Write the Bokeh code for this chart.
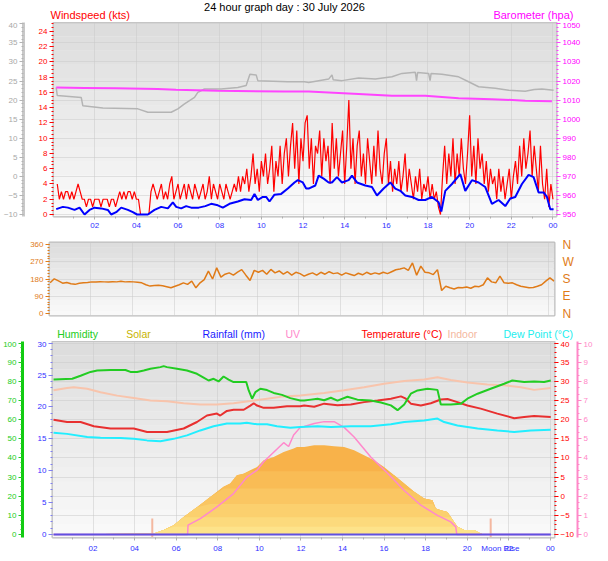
from bokeh.plotting import figure
from bokeh.models import (Range1d, LinearAxis, FixedTicker, SingleIntervalTicker,
                          BoxAnnotation)
from bokeh.layouts import column
from bokeh.embed import file_html
from bokeh.resources import INLINE
from bokeh.core.properties import value
import numpy as np

FONT = "Liberation Sans"

# ---------------- data ----------------
hour_ticks = [2, 4, 6, 8, 10, 12, 14, 16, 18, 20, 22, 24]
hour_labels = ["02", "04", "06", "08", "10", "12", "14", "16", "18", "20", "22", "00"]
moon_rise_hour = 21.6

title_text = "24 hour graph day : 30 July 2026"
legend_names = ["Humidity", "Solar", "Rainfall (mm)", "UV", "Temperature (\u00b0C)", "Indoor",
                "Dew Point (\u00b0C)"]

# wind gust (kts), sampled every 0.1 h from 0.2 h
gust_start, gust_step = 0.2, 0.1
gust_kts = [
    4, 2, 3, 2, 3, 3, 2, 3, 2, 3,
    4, 3, 2, 2, 1, 2, 2, 1, 2, 2,
    2, 1, 2, 2, 2, 1, 2, 2, 1, 2,
    3, 2, 3, 2, 3, 3, 2, 3, 2, 2,
    0, 0, 0, 0, 0, 3, 4, 3, 2, 3,
    4, 2, 3, 2, 4, 5, 2, 3, 4, 2,
    3, 4, 2, 4, 3, 2, 4, 3, 2, 3,
    4, 2, 3, 5, 2, 4, 3, 2, 4, 3,
    2, 4, 3, 2, 3, 4, 3, 5, 3, 5,
    4, 6, 3, 5, 8, 4, 6, 3, 7, 5,
    8, 4, 6, 9, 3, 7, 5, 9, 4, 8,
    10, 5, 9, 12, 6, 11, 4, 10, 7, 12,
    13, 6, 10, 4, 9, 8, 11, 5, 10, 7,
    9, 4, 12, 6, 10, 5, 8, 11, 4, 9,
    15, 6, 10, 4, 9, 11, 5, 8, 4, 10,
    7, 4, 9, 5, 11, 6, 4, 8, 10, 4,
    7, 3, 6, 4, 7, 3, 5, 8, 3, 6,
    4, 2, 5, 3, 6, 2, 4, 3, 5, 2,
    4, 2, 3, 1, 0, 5, 9, 4, 8, 5,
    10, 4, 8, 5, 10, 6, 4, 8, 13, 5,
    9, 4, 10, 6, 8, 4, 7, 3, 6, 4,
    5, 2, 6, 3, 5, 2, 4, 6, 2, 5,
    7, 4, 9, 5, 10, 6, 8, 11, 5, 9,
    6, 3, 9, 4, 2, 6, 1, 4, 2,
]

avg_t = [0.15, 0.47, 0.71, 1.03, 1.27, 1.51, 1.75, 1.99, 2.31, 2.63, 2.79, 3.03, 3.27, 3.59,
         3.83, 4.03, 4.55, 4.87, 5.19, 5.51, 5.75, 5.91, 6.15, 6.39, 6.63, 6.99, 7.31, 7.59,
         7.91, 8.15, 8.47, 8.87, 9.19, 9.51, 9.67, 9.83, 10.07, 10.23, 10.39, 10.63, 10.95,
         11.27, 11.59, 11.75, 11.99, 12.15, 12.27, 12.59, 12.75, 12.99, 13.23, 13.39, 13.63,
         13.87, 14.19, 14.35, 14.59, 14.99, 15.31, 15.55, 15.87, 16.19, 16.43, 16.67, 16.91,
         17.23, 17.55, 17.87, 18.19, 18.51, 18.64, 18.83, 19.15, 19.55, 19.79, 20.11, 20.43,
         20.75, 21.07, 21.39, 21.71, 21.95, 22.19, 22.51, 22.83, 23.07, 23.31, 23.55, 23.71,
         23.87, 24.03]
avg_kts = [0.7, 1.0, 0.9, 0.6, 0.9, 0.0, 0.6, 0.9, 0.8, 0.6, 0.0, 0.3, 0.9, 0.6,
           0.3, 0.0, 0.0, 0.6, 1.0, 0.8, 1.6, 1.0, 0.8, 1.1, 0.9, 0.9, 1.1, 1.4,
           1.2, 0.9, 1.4, 1.7, 2.0, 1.9, 2.7, 1.9, 2.3, 2.3, 1.7, 2.6, 2.7,
           3.4, 4.2, 4.5, 4.2, 3.4, 3.4, 3.8, 5.1, 4.7, 4.2, 4.2, 4.9,
           4.2, 4.5, 5.1, 4.2, 3.8, 3.6, 2.5, 3.4, 4.2, 3.4, 3.1, 2.5,
           2.3, 1.9, 1.9, 2.3, 1.6, 0.4, 3.1, 4.0, 5.3, 3.1, 4.5, 4.2,
           3.6, 1.4, 1.9, 1.1, 2.1, 2.3, 4.0, 5.2, 4.9, 2.9, 2.9, 2.3,
           0.7, 0.7]

baro_t = [0.15, 1.5, 3.0, 5.03, 5.9, 7.9, 11.1, 12.27, 14.67, 16.27, 17.87, 19.47, 21.07, 22.67, 23.95]
baro_hpa = [1016.6, 1016.4, 1016.2, 1015.8, 1015.4, 1014.9, 1014.5, 1014.5, 1013.2, 1012.3,
            1012.3, 1010.9, 1010.5, 1009.7, 1009.4]

grey_t = [0.15, 0.2, 1.35, 1.43, 2.39, 4.07, 4.55, 5.67, 5.99, 6.31, 6.79, 6.95, 7.27, 8.07,
          8.87, 9.27, 9.45, 9.75, 9.83, 11.27, 12.07, 12.27, 13.23, 13.39, 13.45, 13.87, 14.67,
          15.47, 16.27, 16.75, 17.39, 17.45, 17.5, 18.03, 18.1, 18.15, 18.67, 19.47, 19.95,
          20.43, 21.23, 21.87, 22.67, 23.1, 23.47, 24.03]
grey_v = [23.3, 21.2, 20.7, 18.5, 17.9, 17.7, 16.8, 16.8, 17.7, 19.0, 20.7, 22.0, 22.9, 22.9,
          23.3, 23.8, 26.8, 26.6, 25.1, 24.8, 24.8, 24.6, 25.5, 26.6, 25.3, 25.1, 25.8,
          25.5, 26.1, 27.0, 27.3, 25.1, 27.2, 27.0, 25.1, 27.0, 26.8, 26.1, 24.8,
          23.5, 23.1, 22.6, 22.3, 22.8, 22.9, 22.6]

# wind direction (deg), sampled every 0.2 h from 0.05 h
dir_start, dir_step = 0.05, 0.2
dir_deg = [
    160, 181, 170, 158, 162, 155, 152, 158, 160, 162,
    165, 164, 166, 165, 164, 166, 165, 168, 165, 166,
    165, 163, 160, 150, 143, 146, 148, 145, 140, 134,
    142, 150, 160, 152, 169, 134, 160, 177, 221, 180,
    238, 190, 205, 212, 200, 216, 229, 200, 172, 225,
    215, 225, 205, 230, 212, 222, 205, 218, 200, 215,
    208, 195, 205, 212, 200, 215, 205, 218, 208, 212,
    200, 212, 205, 198, 210, 202, 215, 205, 212, 206,
    215, 208, 218, 228, 232, 238, 225, 264, 200, 247,
    215, 212, 203, 229, 120, 142, 134, 128, 136, 134,
    138, 132, 142, 140, 150, 186, 165, 160, 195, 160,
    158, 160, 150, 142, 138, 134, 136, 142, 150, 169,
    186, 169,
]

hum_t = [0.1, 1.0, 1.4, 1.88, 2.2, 2.84, 3.56, 3.8, 4.12, 4.44, 4.76, 5.24, 5.4, 5.56, 6.04,
         6.52, 7.0, 7.32, 7.56, 7.8, 8.04, 8.28, 8.52, 8.76, 9.08, 9.37, 9.49, 9.65, 9.81,
         10.05, 10.37, 10.69, 11.09, 11.49, 11.97, 12.16, 12.48, 12.8, 13.12, 13.44, 13.76,
         14.24, 14.72, 15.36, 15.85, 16.33, 16.65, 16.97, 17.29, 17.61, 18.09, 18.57, 18.73,
         19.21, 19.69, 20.01, 20.5, 21.13, 21.78, 22.17, 22.74, 23.22, 23.7, 24.02]
hum_pct = [81, 81.4, 83, 85, 85.7, 86, 86, 85, 85, 85.7, 86.6, 87.5, 88, 87.5, 86.6,
           85.7, 84, 82, 80.5, 81.4, 80, 82.6, 81, 79.7, 79.7, 79.7, 75.3, 71, 74.4,
           76.2, 75.5, 74, 73, 71.3, 70, 70, 70.5, 71, 70.2, 71.5, 70,
           72, 70.5, 70, 69, 67.5, 65, 68, 73.6, 75.3, 76.2, 75.6, 68,
           68, 68.3, 71, 73.6, 76.2, 78.8, 80.5, 79.7, 80, 79.7, 80.5]

temp_t = [0.1, 0.75, 1.4, 2.04, 2.84, 3.96, 4.6, 5.56, 6.36, 7.0, 7.48, 7.96, 8.12, 8.44, 8.76,
          9.25, 9.57, 9.73, 9.89, 10.21, 10.69, 11.33, 11.97, 12.16, 12.64, 13.12, 13.76, 14.4,
          15.04, 15.69, 16.33, 16.81, 17.05, 17.29, 17.77, 18.25, 18.73, 19.05, 19.53, 20.01,
          20.65, 21.45, 22.26, 22.74, 23.22, 24.02]
temp_c = [20.0, 19.4, 19.4, 18.3, 17.7, 17.7, 16.8, 16.8, 17.7, 19.4, 21.1, 21.6, 21.1, 22.3, 22.6,
          22.6, 23.7, 24.3, 23.7, 23.1, 23.1, 23.5, 23.5, 23.7, 23.4, 24.2, 23.8, 24.0,
          24.6, 25.0, 25.5, 26.1, 25.5, 24.2, 23.7, 24.3, 25.3, 25.4, 24.6, 23.7,
          22.9, 21.6, 20.4, 20.7, 21.0, 20.7]

indoor_t = [0.1, 0.75, 1.07, 1.72, 2.36, 3.16, 3.96, 4.76, 5.56, 6.36, 7.16, 7.96, 8.76, 9.57,
            10.37, 11.17, 11.97, 13.12, 14.08, 15.04, 16.0, 16.97, 17.93, 18.57, 19.21, 20.01,
            20.97, 21.78, 22.58, 23.22, 24.02]
indoor_c = [27.7, 28.3, 28.5, 28.1, 27.2, 26.3, 25.7, 25.0, 24.8, 24.3, 24.0, 24.0, 24.3, 24.9,
            25.5, 26.1, 26.3, 27.0, 27.7, 28.5, 29.4, 30.1, 30.5, 31.1, 30.4, 29.7,
            29.2, 29.0, 28.5, 27.8, 28.3]

dew_t = [0.1, 0.75, 1.72, 2.36, 3.32, 3.96, 4.6, 5.24, 5.88, 6.52, 7.16, 7.8, 8.44, 9.08, 9.4,
         9.89, 10.37, 10.85, 11.49, 11.97, 12.8, 13.44, 14.4, 15.36, 16.33, 16.97, 17.93, 18.57,
         18.89, 19.53, 20.5, 21.45, 22.26, 23.06, 24.02]
dew_c = [16.6, 16.3, 15.5, 15.3, 15.2, 15.0, 14.6, 14.4, 15.0, 15.9, 17.2, 18.3, 19.0, 19.0, 19.2,
         18.8, 18.8, 18.3, 17.9, 18.1, 18.3, 18.1, 18.3, 18.3, 18.8, 19.4, 19.8, 20.3,
         19.4, 18.5, 17.7, 17.2, 16.8, 17.2, 17.4]

uv_t = [0.1, 6.55, 6.57, 7.16, 7.96, 8.76, 9.4, 9.89, 10.21, 10.69, 11.17, 11.41, 11.65, 11.97,
        12.16, 12.64, 13.12, 13.6, 14.08, 14.56, 15.36, 16.17, 16.97, 17.77, 18.57, 19.21, 19.45,
        19.5, 24.02]
uv_idx = [0, 0, 0.49, 0.83, 1.44, 2.14, 3.0, 3.36, 3.8, 4.3, 4.8, 4.6, 5.2, 5.6,
          5.65, 5.8, 5.9, 5.9, 5.6, 5.1, 4.05, 3.2, 2.3, 1.53, 1.0, 0.66, 0.4,
          0, 0]

solar_t = [0.1, 4.92, 5.4, 5.88, 6.36, 7.0, 7.64, 8.28, 8.6, 8.92, 9.24, 9.56, 9.89, 10.21, 10.69,
           11.17, 11.65, 11.81, 12.16, 12.64, 13.12, 13.6, 14.08, 14.56, 15.04, 15.52, 16.0, 16.49,
           16.97, 17.45, 17.93, 18.33, 18.49, 18.73, 19.05, 19.21, 19.53, 19.85, 20.33, 20.65,
           20.8, 24.02]
solar_wm2 = [0, 5, 23, 49, 92, 143, 196, 249, 266, 310, 318, 336, 353, 388, 405,
             431, 449, 457, 457, 466, 466, 461, 457, 440, 414, 388, 353, 310,
             266, 223, 188, 179, 136, 127, 118, 92, 40, 23, 23, 5,
             0, 0]

rain_t = [0.1, 24.02]
rain_mm = [0.0, 0.0]

moon_events = [4.85, 21.13]

# ---------------- helpers ----------------
W = 608


def rng(lo, hi, span, pb, pt):
    s = (hi - lo) / span
    return Range1d(lo - pb * s, hi + pt * s)


def style_axis(ax, color, tick_color=None, line_color="#c8c8c8", line_width=1, size="8px",
               pad=None):
    tc = tick_color or color
    ax.major_label_text_color = color
    ax.major_label_text_font = FONT
    ax.major_label_text_font_size = size
    ax.axis_line_color = line_color
    ax.axis_line_width = line_width
    ax.major_tick_line_color = tc
    ax.minor_tick_line_color = tc
    ax.major_tick_in = 0
    ax.major_tick_out = 4
    ax.minor_tick_in = 0
    ax.minor_tick_out = 2
    ax.major_label_standoff = 2
    if pad:
        ax.axis_label = " "
        ax.axis_label_text_font_size = "4px"
        ax.axis_label_standoff = pad


def style_xaxis(p, extra=None):
    ax = p.xaxis[0]
    ticks = list(hour_ticks)
    over = {t: l for t, l in zip(hour_ticks, hour_labels)}
    if extra:
        ticks.append(extra[0])
        over[extra[0]] = extra[1]
    ax.ticker = FixedTicker(ticks=ticks, minor_ticks=[t - 1 for t in hour_ticks])
    ax.major_label_overrides = over
    style_axis(ax, "#3030ff", tick_color="#b0b0b0")
    ax.major_tick_out = 3
    ax.major_label_standoff = 3


def background(p, yr, top=(0xdc, 0xdc, 0xdc), bot=(0xfa, 0xfa, 0xfa), n=14):
    lo, hi = yr.start, yr.end
    for i in range(n):
        f = (i + 0.5) / n
        c = tuple(int(round(b + (t - b) * f)) for t, b in zip(top, bot))
        p.add_layout(BoxAnnotation(bottom=lo + (hi - lo) * i / n, top=lo + (hi - lo) * (i + 1) / n,
                                   fill_color="#%02x%02x%02x" % c, fill_alpha=1.0,
                                   line_alpha=0, level="image"))


def grid_style(p, yticker):
    p.xgrid.ticker = FixedTicker(ticks=hour_ticks)
    p.ygrid.ticker = yticker
    for g in (p.xgrid[0], p.ygrid[0]):
        g.grid_line_color = "#c8c8c8"
        g.grid_line_dash = "1 1"
        g.grid_line_width = 1


def base_fig(fw, fh, xr, yr, bl, br, bt, bb, **kw):
    return figure(frame_width=fw, frame_height=fh, x_range=xr, y_range=yr,
                  output_backend="svg", toolbar_location=None, frame_align=False,
                  min_border_left=bl, min_border_right=br, min_border_top=bt, min_border_bottom=bb,
                  background_fill_color="#f4f4f4", border_fill_color="white",
                  outline_line_color="#bcbcbc", outline_line_width=2, **kw)


def text_strip(h, xs, ys, texts, colors, aligns, size):
    p = figure(frame_width=W, frame_height=h, x_range=Range1d(0, W), y_range=Range1d(0, h),
               output_backend="svg", toolbar_location=None, min_border=0, frame_align=False,
               x_axis_location=None, y_axis_location=None, outline_line_color=None,
               background_fill_color="white", border_fill_color="white")
    p.grid.visible = False
    p.text(x=xs, y=ys, text=texts, text_color=colors, text_align=aligns,
           text_baseline="middle", text_font=value(FONT), text_font_size=value(size))
    return p


# ---------------- title strip ----------------
p0 = text_strip(22, [50, 284, 573], [8, 16, 8],
                ["Windspeed (kts)", title_text, "Barometer (hpa)"],
                ["#ff0000", "#000000", "#ff00ff"], ["left", "center", "right"], "11px")

# ---------------- top: wind & barometer ----------------
p1 = base_fig(503, 194, Range1d(0.02, 24.17), rng(0, 25, 190.7, 2, 1.3), 49, 56, 0, 20)
p1.extra_y_ranges = {"grey": rng(-10, 40, 190.7, 2, 1.3), "baro": rng(950, 1050, 190.7, 2, 1.3)}
background(p1, p1.y_range)
grid_style(p1, SingleIntervalTicker(interval=2.5))
style_xaxis(p1)
ya = p1.yaxis[0]
ya.ticker = SingleIntervalTicker(interval=2, num_minor_ticks=4)
style_axis(ya, "#ff0000", pad=4)
ga = LinearAxis(y_range_name="grey", ticker=SingleIntervalTicker(interval=5, num_minor_ticks=5))
style_axis(ga, "#a8a8a8", tick_color="#b4b4b4", line_color="#c8c8c8", line_width=3)
p1.add_layout(ga, "left")
ba = LinearAxis(y_range_name="baro", ticker=SingleIntervalTicker(interval=10, num_minor_ticks=5))
style_axis(ba, "#ff00ff", tick_color="#ff40ff")
p1.add_layout(ba, "right")

gust_t = [round(gust_start + gust_step * i, 2) for i in range(len(gust_kts))]
p1.line(grey_t, grey_v, y_range_name="grey", line_color="#b4b4b4", line_width=1.5)
p1.line(baro_t, baro_hpa, y_range_name="baro", line_color="#ff44ff", line_width=2)
p1.line(gust_t, gust_kts, line_color="#ff0000", line_width=1.2)
p1.line(avg_t, avg_kts, line_color="#0000ff", line_width=2)

# ---------------- middle: wind direction ----------------
p2 = base_fig(505, 73, Range1d(0.02, 24.27), rng(0, 360, 69, 2, 2), 49, 54, 6, 7,
              x_axis_location=None)
background(p2, p2.y_range)
grid_style(p2, FixedTicker(ticks=[90, 180, 270]))
da = p2.yaxis[0]
da.ticker = FixedTicker(ticks=[0, 90, 180, 270, 360], minor_ticks=list(range(0, 361, 15)))
style_axis(da, "#e07b18")
na = LinearAxis(ticker=FixedTicker(ticks=[0, 90, 180, 270, 360]))
na.major_label_overrides = {0: "N", 90: "E", 180: "S", 270: "W", 360: "N"}
style_axis(na, "#e07b18", size="12px")
na.axis_line_color = None
na.major_tick_line_color = None
na.minor_tick_line_color = None
na.major_label_standoff = 4
p2.add_layout(na, "right")
dir_t = [round(dir_start + dir_step * i, 2) for i in range(len(dir_deg))]
p2.line(dir_t, dir_deg, line_color="#e07b18", line_width=1.5)

# ---------------- legend strip ----------------
p2b = text_strip(19, [56.7, 125.7, 202, 285, 361, 447, 503], [8] * 7, legend_names,
                 ["#22cc22", "#c8b400", "#1a1aff", "#ff88cc", "#ff0000", "#f4b8a0", "#22eeee"],
                 ["left"] * 7, "10.5px")

# ---------------- bottom: temperature etc ----------------
p3 = base_fig(502, 196, Range1d(0.05, 24.2), rng(-10, 40, 191.3, 3, 1.7), 52, 54, 0, 18,
              y_axis_location="right")
p3.extra_y_ranges = {"rain": rng(0, 30, 191.3, 3, 1.7), "hum": rng(0, 100, 191.3, 3, 1.7),
                     "uv": rng(0, 10, 191.3, 3, 1.7), "solar": rng(0, 1000, 191.3, 3, 1.7)}
background(p3, p3.y_range)
grid_style(p3, SingleIntervalTicker(interval=5))
style_xaxis(p3, extra=(moon_rise_hour, "Moon Rise"))
ta = p3.yaxis[0]
ta.ticker = SingleIntervalTicker(interval=5, num_minor_ticks=4)
style_axis(ta, "#ff0000")
ra = LinearAxis(y_range_name="rain", ticker=SingleIntervalTicker(interval=5, num_minor_ticks=5))
style_axis(ra, "#3030ff", tick_color="#8080f0", pad=4)
p3.add_layout(ra, "left")
ha = LinearAxis(y_range_name="hum", ticker=SingleIntervalTicker(interval=10, num_minor_ticks=4))
style_axis(ha, "#22cc22", tick_color="#22cc22", line_color="#11cc11", line_width=3)
p3.add_layout(ha, "left")
ua = LinearAxis(y_range_name="uv", ticker=SingleIntervalTicker(interval=1, num_minor_ticks=3))
style_axis(ua, "#ff88c8", tick_color="#ff88c8", line_color="#ff88c8", line_width=2, pad=6)
p3.add_layout(ua, "right")

sol = np.array(solar_wm2, dtype=float)
layers = [(None, "#f8b24a"), (330, "#f9bc55"), (240, "#fac662"), (160, "#fbd06e"),
          (90, "#fcda7c"), (40, "#fde38a")]
for cap, col in layers:
    top = sol if cap is None else np.minimum(sol, cap)
    p3.varea(x=solar_t, y1=0, y2=top, y_range_name="solar", fill_color=col)

p3.segment(x0=moon_events, x1=moon_events, y0=-10.8, y1=-5.8, line_color="#f4b8a0", line_width=2)
p3.line(uv_t, uv_idx, y_range_name="uv", line_color="#ff88cc", line_width=1.5)
p3.line(indoor_t, indoor_c, line_color="#f8c4ac", line_width=2)
p3.line(dew_t, dew_c, line_color="#22eeff", line_width=2)
p3.line(temp_t, temp_c, line_color="#e83030", line_width=2)
p3.line(hum_t, hum_pct, y_range_name="hum", line_color="#22cc22", line_width=2)
p3.line(rain_t, rain_mm, y_range_name="rain", line_color="#6050e0", line_width=2)

layout = column(p0, p1, p2, p2b, p3)
open("out.html", "w").write(file_html(layout, INLINE))
